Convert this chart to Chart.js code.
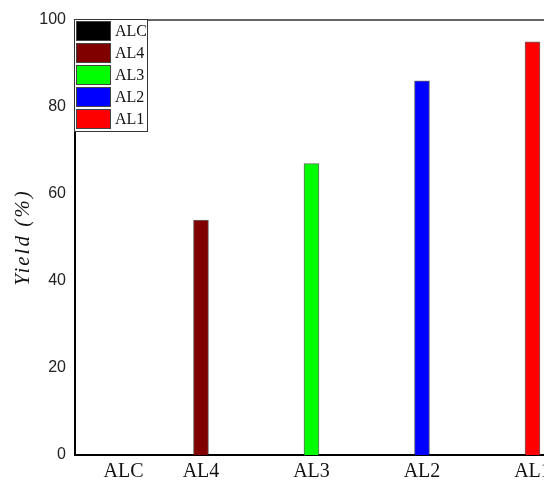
<!DOCTYPE html>
<html>
<head>
<meta charset="utf-8">
<script src="https://cdn.jsdelivr.net/npm/chart.js@4/dist/chart.umd.min.js"></script>
<style>
  html, body { margin: 0; padding: 0; background: #fff; overflow: hidden; }
  #wrap { width: 544px; height: 480px; overflow: hidden; }
</style>
</head>
<body>
<div id="wrap"><canvas id="chart" width="600" height="480"></canvas></div>
<script>
// Yield per sample
var SAMPLES = ['ALC', 'AL4', 'AL3', 'AL2', 'AL1'];
var YIELD = [0, 54, 67, 86, 95];
var COLORS = ['#000000', '#800000', '#00ff00', '#0000ff', '#ff0000'];
var Y_TICKS = [0, 20, 40, 60, 80, 100];

var SERIF = "'Liberation Serif', 'Times New Roman', serif";
var SANS = "'Liberation Sans', Arial, sans-serif";

// one dataset per sample so each bar gets its own legend entry
var datasets = SAMPLES.map(function (name, i) {
  return {
    label: name,
    data: [{ x: i, y: YIELD[i] }],
    backgroundColor: COLORS[i],
    borderColor: 'rgba(40,40,40,0.7)',
    borderWidth: 1,
    barThickness: 15,
    grouped: false
  };
});

// top frame line, drawn under the legend
var frameTop = {
  id: 'frameTop',
  beforeDatasetsDraw: function (chart) {
    var a = chart.chartArea, ctx = chart.ctx;
    ctx.save();
    ctx.strokeStyle = '#333';
    ctx.lineWidth = 1.5;
    ctx.beginPath();
    ctx.moveTo(a.left, a.top);
    ctx.lineTo(a.right, a.top);
    ctx.stroke();
    ctx.restore();
  }
};

// spread the letters of the y title a little
var spacedTitle = {
  id: 'spacedTitle',
  afterLayout: function (chart) {
    var y = chart.scales.y;
    if (!y || y._spaced) { return; }
    var draw = y.drawTitle;
    y.drawTitle = function () {
      var ctx = this.ctx;
      ctx.save();
      ctx.letterSpacing = '2px';
      draw.apply(this, arguments);
      ctx.restore();
    };
    y._spaced = true;
  }
};

// boxed legend in the upper left corner of the plot
var boxLegend = {
  id: 'boxLegend',
  afterDraw: function (chart) {
    var ctx = chart.ctx;
    var a = chart.chartArea;
    var x0 = a.left - 1, y0 = a.top - 1;
    var rowH = 22, w = 73, h = SAMPLES.length * rowH + 2;
    ctx.save();
    ctx.fillStyle = '#fff';
    ctx.fillRect(x0, y0, w, h);
    ctx.strokeStyle = '#333';
    ctx.lineWidth = 1;
    ctx.strokeRect(x0 + 0.5, y0 + 0.5, w, h);
    ctx.font = '16px ' + SERIF;
    ctx.textBaseline = 'middle';
    chart.data.datasets.forEach(function (ds, i) {
      var ry = y0 + 2 + i * rowH;
      ctx.fillStyle = ds.backgroundColor;
      ctx.fillRect(x0 + 2, ry, 35, 20);
      ctx.strokeStyle = '#444';
      ctx.strokeRect(x0 + 2.5, ry + 0.5, 34, 19);
      ctx.fillStyle = '#111';
      ctx.fillText(ds.label, x0 + 41, ry + 11);
    });
    ctx.restore();
  }
};

new Chart(document.getElementById('chart'), {
  type: 'bar',
  data: { datasets: datasets },
  plugins: [frameTop, spacedTitle, boxLegend],
  options: {
    responsive: false,
    animation: false,
    layout: { padding: { top: 20, right: 40, left: 0, bottom: 0 } },
    plugins: { legend: { display: false }, tooltip: { enabled: false } },
    scales: {
      x: {
        type: 'linear',
        offset: false,
        min: -0.14,
        max: 4.249,
        grid: { display: false, drawTicks: false },
        border: { display: true, color: '#000', width: 2 },
        afterBuildTicks: function (scale) {
          scale.ticks = SAMPLES.map(function (s, i) { return { value: i === 0 ? 0.3 : i }; });
        },
        afterFit: function (scale) { scale.height = 25; },
        ticks: {
          padding: 5,
          color: '#111',
          font: { family: SERIF, size: 20 },
          maxRotation: 0,
          autoSkip: false,
          callback: function (v, i) { return SAMPLES[i]; }
        }
      },
      y: {
        min: 0,
        max: 100,
        grid: { display: false, drawTicks: false },
        border: { display: true, color: '#000', width: 2 },
        afterBuildTicks: function (scale) {
          scale.ticks = Y_TICKS.map(function (v) { return { value: v }; });
        },
        afterFit: function (scale) { scale.width = 75; },
        ticks: {
          padding: 9,
          color: '#222',
          font: { family: SANS, size: 16 }
        },
        title: {
          display: true,
          text: 'Yield (%)',
          color: '#111',
          padding: { top: 11, bottom: 0 },
          font: { family: SERIF, size: 21, style: 'italic' }
        }
      }
    }
  }
});
</script>
</body>
</html>
